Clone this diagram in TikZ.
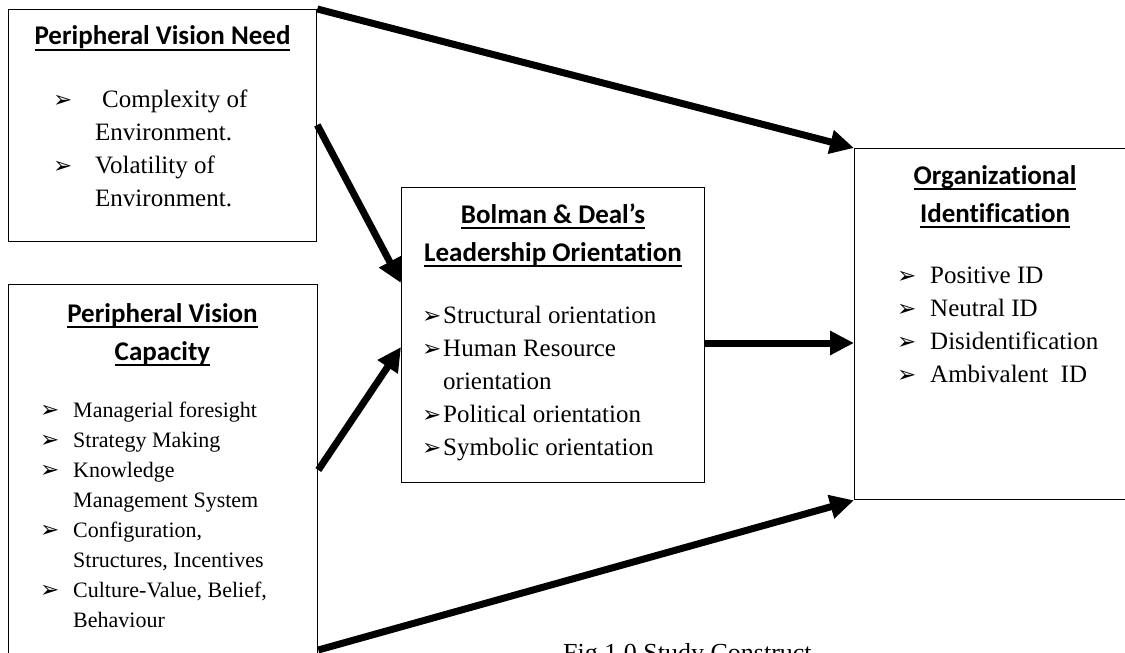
\documentclass[tikz,border=0pt]{standalone}
\usepackage{fontspec}
\setmainfont{Liberation Serif}
\newfontfamily\headfont{Carlito}[Ligatures=NoCommon]
\newfontfamily\symfont{DejaVu Sans}
\usetikzlibrary{arrows.meta}
% heading underline at a fixed depth below the baseline
\newcommand\hdul[1]{\setbox0\hbox{#1}\rlap{\rule[-5.5pt]{\wd0}{1.8pt}}\box0}
% arrowhead bullet in a box of given width
\newcommand\bul[1]{\makebox[#1][l]{\symfont\fontsize{23}{23}\selectfont ➢}}
\begin{document}
\begin{tikzpicture}[x=1pt,y=-1pt,
  box/.style={draw, line width=1.3pt, inner sep=0pt, anchor=north west},
  head/.style={inner sep=0pt, anchor=base, font=\headfont\bfseries\fontsize{27}{38.5}\selectfont},
  list/.style={inner sep=0pt, anchor=base west, font=\fontsize{25}{33}\selectfont},
  arr/.style={line width=7pt, -{Triangle[length=24pt,width=23pt]}}]
\useasboundingbox (0,0) rectangle (1125,653);
\fill[white] (0,0) rectangle (1125,653);
\clip (0,0) rectangle (1125,653);

% boxes
\node[box, minimum width=308pt, minimum height=232pt] (A) at (8,9) {};
\node[box, minimum width=309pt, minimum height=400pt] (B) at (8,284) {};
\node[box, minimum width=303pt, minimum height=295pt] (C) at (401,187) {};
\node[box, minimum width=300pt, minimum height=351pt] (D) at (854,148) {};

% headings
\node[head] (Ah) at (162.5,45) {\begin{tabular}[t]{@{}c@{}}\hdul{Peripheral Vision Need}\end{tabular}};
\node[head] (Bh) at (162.5,322) {\begin{tabular}[t]{@{}c@{}}\hdul{Peripheral Vision}\\\hdul{Capacity}\end{tabular}};
\node[head] (Ch) at (553,223) {\begin{tabular}[t]{@{}c@{}}\hdul{Bolman \& Deal’s}\\\hdul{Leadership Orientation}\end{tabular}};
\node[head] (Dh) at (995,184) {\begin{tabular}[t]{@{}c@{}}\hdul{Organizational}\\\hdul{Identification}\end{tabular}};

% lists
\node[list] (Al) at (53,107) {\begin{tabular}[t]{@{}l@{}l@{}}
\bul{42pt} & \hspace{7pt}Complexity of\\
 & Environment.\\
\bul{42pt} & Volatility of\\
 & Environment.
\end{tabular}};
\node[list, font=\fontsize{22}{30}\selectfont] (Bl) at (40,417) {\begin{tabular}[t]{@{}l@{}l@{}}
\bul{33pt} & Managerial foresight\\
\bul{33pt} & Strategy Making\\
\bul{33pt} & Knowledge\\
 & Management System\\
\bul{33pt} & Configuration,\\
 & Structures, Incentives\\
\bul{33pt} & Culture-Value, Belief,\\
 & Behaviour
\end{tabular}};
\node[list] (Cl) at (422,323) {\begin{tabular}[t]{@{}l@{}l@{}}
\bul{21pt} & Structural orientation\\
\bul{21pt} & Human Resource\\
 & orientation\\
\bul{21pt} & Political orientation\\
\bul{21pt} & Symbolic orientation
\end{tabular}};
\node[list] (Dl) at (897,283) {\begin{tabular}[t]{@{}l@{}l@{}}
\bul{33pt} & Positive ID\\
\bul{33pt} & Neutral ID\\
\bul{33pt} & Disidentification\\
\bul{33pt} & Ambivalent\ \ ID
\end{tabular}};

% caption
\node[inner sep=0pt, anchor=base west, font=\fontsize{26}{30}\selectfont] (cap) at (563,661) {Fig 1.0 Study Construct};

% connectors
\coordinate (a2s) at ([yshift=-116pt]A.north east);
\coordinate (a2e) at ([yshift=-96pt]C.north west);
\coordinate (a3s) at ([yshift=-186pt]B.north east);
\coordinate (a3e) at ([yshift=-160pt]C.north west);
\coordinate (a4s) at ([yshift=-156pt]C.north east);
\coordinate (a5s) at ([yshift=-366pt]B.north east);
\draw[arr] (A.north east) -- (D.north west);
\draw[arr] (a2s) -- (a2e);
\draw[arr] (a3s) -- (a3e);
\draw[arr] (a4s) -- (a4s -| D.west);
\draw[arr] (a5s) -- (D.south west);
\end{tikzpicture}
\end{document}
